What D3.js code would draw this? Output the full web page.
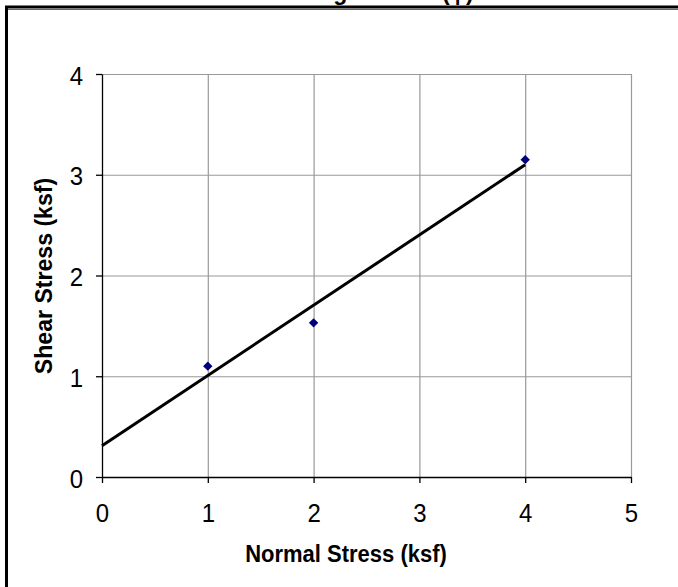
<!DOCTYPE html>
<html>
    <head>
        <title> Shear Stress vs Normal Stress </title>
        <script src="https://d3js.org/d3.v7.min.js"></script>
        <style>
            body { margin: 0; background: white; }
        </style>
    </head>

    <body>
        <div id="ScatterGraph"></div>

        <script type="text/javascript">

            // measured points (ksf)
            var normalStress = [1, 2, 4];
            var shearStress = [1.10, 1.53, 3.15];

            // best fit line end points
            var fitX = [0, 4];
            var fitY = [0.31, 3.10];

            var xTicks = [0, 1, 2, 3, 4, 5];
            var yTicks = [0, 1, 2, 3, 4];

            var titleText = "Shear Strength Line   (φ)";
            var xTitle = "Normal Stress (ksf)";
            var yTitle = "Shear Stress (ksf)";

            var width = 678, height = 587;
            var plot = {left: 102, right: 631, top: 74, bottom: 477};
            var font = "'Liberation Sans', Arial, sans-serif";

            var svg = d3.select("#ScatterGraph")
            .append("svg")
            .attr("width", width)
            .attr("height", height)
            .style("display", "block");

            svg.append("rect")
            .attr("width", width)
            .attr("height", height)
            .attr("fill", "white");

            // title is cut off by the top of the picture, only the descenders show
            svg.append("text")
            .attr("x", 339)
            .attr("y", 0)
            .attr("text-anchor", "middle")
            .attr("xml:space", "preserve")
            .style("white-space", "pre")
            .style("font-family", font)
            .style("font-weight", "bold")
            .style("font-size", "23px")
            .text(titleText);

            // outer chart border
            svg.append("rect")
            .attr("x", 6.5)
            .attr("y", 7)
            .attr("width", 720)
            .attr("height", 640)
            .attr("fill", "white")
            .attr("stroke", "black")
            .attr("stroke-width", 3);
            svg.append("line")
            .attr("x1", 8).attr("x2", width)
            .attr("y1", 9.5).attr("y2", 9.5)
            .attr("stroke", "#666")
            .attr("stroke-width", 1);

            var x = d3.scaleLinear()
            .domain([0, 5])
            .range([plot.left, plot.right]);

            var y = d3.scaleLinear()
            .domain([0, 4])
            .range([plot.bottom, plot.top]);

            // grid
            svg.append("g")
            .attr("class", "grid")
            .attr("transform", "translate(0," + plot.bottom + ")")
            .call(d3.axisBottom(x)
            .tickValues(xTicks.slice(1))
            .tickSize(-(plot.bottom - plot.top))
            .tickFormat(""))
            .call(function(g) { g.select(".domain").remove(); })
            .selectAll("line")
            .attr("stroke", "#999")
            .attr("stroke-width", 1.2);

            svg.append("g")
            .attr("class", "grid")
            .attr("transform", "translate(" + plot.left + ",0)")
            .call(d3.axisLeft(y)
            .tickValues(yTicks.slice(1))
            .tickSize(-(plot.right - plot.left))
            .tickFormat(""))
            .call(function(g) { g.select(".domain").remove(); })
            .selectAll("line")
            .attr("stroke", "#999")
            .attr("stroke-width", 1.2);

            // axes
            var xAxis = svg.append("g")
            .attr("transform", "translate(0," + plot.bottom + ")")
            .call(d3.axisBottom(x)
            .tickValues(xTicks)
            .tickSize(6)
            .tickSizeOuter(0)
            .tickPadding(20)
            .tickFormat(d3.format("d")));

            var yAxis = svg.append("g")
            .attr("transform", "translate(" + plot.left + ",0)")
            .call(d3.axisLeft(y)
            .tickValues(yTicks)
            .tickSize(6)
            .tickSizeOuter(0)
            .tickPadding(13)
            .tickFormat(d3.format("d")));

            [xAxis, yAxis].forEach(function(a) {
                a.select(".domain").attr("stroke", "black").attr("stroke-width", 1.3);
                a.selectAll(".tick line").attr("stroke", "black").attr("stroke-width", 1.3);
                a.selectAll(".tick text")
                .attr("fill", "black")
                .style("font-family", font)
                .style("font-size", "24px");
            });
            // digits in the reference are a bit taller than wide
            xAxis.selectAll(".tick text").attr("transform", "scale(1,1.1)").attr("y", 24);
            yAxis.selectAll(".tick text").attr("transform", "scale(1,1.1)").attr("dy", "0.38em");

            // fit line
            var fit = fitX.map(function(d, i) { return {x: d, y: fitY[i]}; });
            svg.append("path")
            .datum(fit)
            .attr("fill", "none")
            .attr("stroke", "black")
            .attr("stroke-width", 3)
            .attr("d", d3.line()
            .x(function(d) { return x(d.x) })
            .y(function(d) { return y(d.y) })
            );

            // data points
            svg.selectAll(".pt")
            .data(normalStress)
            .enter()
            .append("path")
            .attr("class", "pt")
            .attr("d", d3.symbol().type(d3.symbolSquare).size(44))
            .attr("transform", function(d, i) {
                return "translate(" + x(d) + "," + y(shearStress[i]) + ") rotate(45)";
            })
            .attr("fill", "#000080");

            // axis titles
            svg.append("text")
            .attr("transform", "translate(346,562) scale(1,1.12)")
            .attr("text-anchor", "middle")
            .style("font-family", font)
            .style("font-weight", "bold")
            .style("font-size", "22px")
            .text(xTitle);

            svg.append("text")
            .attr("transform", "translate(52,276) rotate(-90) scale(1.05,1.12)")
            .attr("text-anchor", "middle")
            .style("font-family", font)
            .style("font-weight", "bold")
            .style("font-size", "22px")
            .text(yTitle);

        </script>
    </body>
</html>
